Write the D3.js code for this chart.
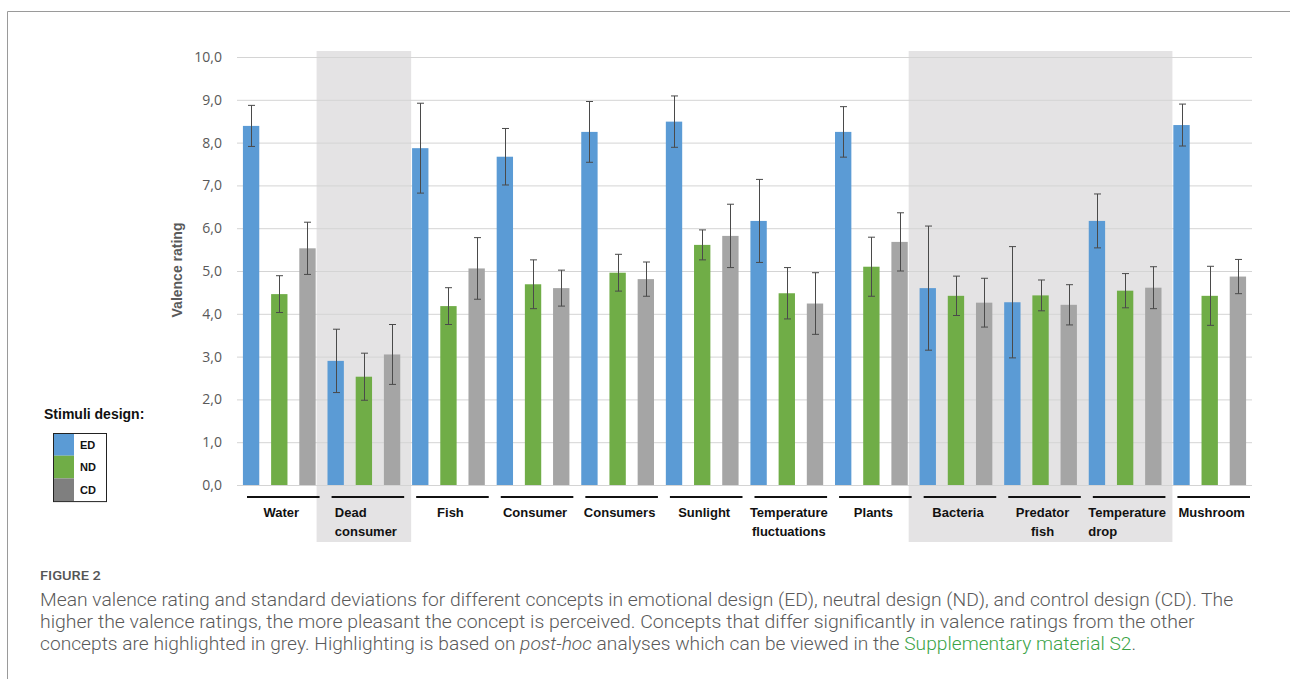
<!DOCTYPE html>
<html>
<head>
<meta charset="utf-8">
<script src="https://cdn.jsdelivr.net/npm/d3@7"></script>
<style>
  html, body { margin: 0; padding: 0; background: #ffffff; }
  svg { display: block; }
</style>
</head>
<body>
<svg id="chart" width="1290" height="679"></svg>
<script>
// Concepts shown along the x axis (label lines per concept)
const categories = ["Water", "Dead consumer", "Fish", "Consumer", "Consumers", "Sunlight",
  "Temperature fluctuations", "Plants", "Bacteria", "Predator fish", "Temperature drop", "Mushroom"];
const labelLines = [["Water"], ["Dead", "consumer"], ["Fish"], ["Consumer"], ["Consumers"], ["Sunlight"],
  ["Temperature", "fluctuations"], ["Plants"], ["Bacteria"], ["Predator", "fish"], ["Temperature", "drop"], ["Mushroom"]];
const labelAlign = ["middle", "start", "middle", "middle", "middle", "middle",
  "middle", "middle", "middle", "middle", "start", "middle"];

// Design conditions
const series = ["ED", "ND", "CD"];

// Mean valence ratings per condition
const meanED = [8.39, 2.90, 7.87, 7.67, 8.25, 8.49, 6.17, 8.25, 4.60, 4.27, 6.17, 8.41];
const meanND = [4.46, 2.53, 4.18, 4.69, 4.96, 5.61, 4.48, 5.10, 4.42, 4.43, 4.54, 4.42];
const meanCD = [5.53, 3.05, 5.06, 4.60, 4.81, 5.82, 4.24, 5.68, 4.26, 4.21, 4.61, 4.87];

// Standard deviations per condition
const sdED = [0.48, 0.74, 1.05, 0.66, 0.71, 0.60, 0.97, 0.59, 1.45, 1.30, 0.63, 0.49];
const sdND = [0.43, 0.55, 0.43, 0.57, 0.43, 0.35, 0.60, 0.69, 0.46, 0.36, 0.40, 0.69];
const sdCD = [0.61, 0.70, 0.72, 0.42, 0.40, 0.74, 0.72, 0.68, 0.57, 0.47, 0.49, 0.40];

// Concepts that differ significantly (shaded)
const highlighted = [["Dead consumer"], ["Bacteria", "Predator fish", "Temperature drop"]];

// Axis ticks
const yTicks = [0, 1, 2, 3, 4, 5, 6, 7, 8, 9, 10];

const barColors = { ED: "#5b9bd5", ND: "#70ad47", CD: "#a5a5a5" };
const legendColors = { ED: "#5b9bd5", ND: "#70ad47", CD: "#7f7f7f" };

const means = { ED: meanED, ND: meanND, CD: meanCD };
const sds = { ED: sdED, ND: sdND, CD: sdCD };

const svg = d3.select("#chart");

// Figure frame (top and left rule)
svg.append("line").attr("x1", 7.5).attr("x2", 1290).attr("y1", 11.5).attr("y2", 11.5)
  .attr("stroke", "#9a9a9a").attr("stroke-width", 1);
svg.append("line").attr("x1", 7.5).attr("x2", 7.5).attr("y1", 11.5).attr("y2", 679)
  .attr("stroke", "#9a9a9a").attr("stroke-width", 1);

const x0 = d3.scaleBand().domain(categories).range([237, 1252]).padding(0);
const x1 = d3.scaleBand().domain(series).range([0, x0.bandwidth()])
  .paddingInner(0.42).paddingOuter(0.21);
const y = d3.scaleLinear().domain([0, 10]).range([485, 57]);

// Shaded groups
const hl = svg.append("g");
highlighted.forEach(group => {
  const first = group[0], last = group[group.length - 1];
  const xs = x0(first) - 5;
  const xe = x0(last) + x0.bandwidth() + 5;
  hl.append("rect").attr("x", xs).attr("y", 51).attr("width", xe - xs).attr("height", 491)
    .attr("fill", "#e4e3e4");
});

// Horizontal gridlines and tick labels
const yAxis = d3.axisLeft(y).tickValues(yTicks)
  .tickSize(-(1252 - 237))
  .tickPadding(15)
  .tickFormat(d => d3.format(".1f")(d).replace(".", ","));
const ga = svg.append("g").attr("transform", "translate(237,0)").call(yAxis);
ga.select(".domain").remove();
ga.selectAll(".tick line").attr("stroke", "#d4d4d4").attr("stroke-width", 1);
ga.selectAll(".tick text").attr("fill", "#595959")
  .style("font-family", "'Open Sans', 'Noto Sans', sans-serif").style("font-size", "14px");

// Y axis title
svg.append("text")
  .attr("transform", "translate(182,270) rotate(-90)")
  .attr("text-anchor", "middle")
  .style("font-family", "'Liberation Sans', Arial, sans-serif")
  .style("font-size", "14px").style("font-weight", "bold")
  .attr("fill", "#595959")
  .text("Valence rating");

// Bars with SD whiskers
const rows = [];
categories.forEach((c, i) => {
  series.forEach(s => rows.push({ cat: c, s: s, v: means[s][i], sd: sds[s][i] }));
});

const gb = svg.append("g");
gb.selectAll("rect.bar").data(rows).join("rect")
  .attr("class", "bar")
  .attr("x", d => x0(d.cat) + x1(d.s))
  .attr("y", d => y(d.v))
  .attr("width", x1.bandwidth())
  .attr("height", d => y(0) - y(d.v))
  .attr("fill", d => barColors[d.s]);

const ge = svg.append("g").attr("stroke", "#4a4a4a").attr("stroke-width", 1);
rows.forEach(d => {
  const cx = Math.round(x0(d.cat) + x1(d.s) + x1.bandwidth() / 2) + 0.5;
  const top = y(d.v + d.sd), bot = y(d.v - d.sd);
  ge.append("line").attr("x1", cx).attr("x2", cx).attr("y1", top).attr("y2", bot);
  ge.append("line").attr("x1", cx - 3.5).attr("x2", cx + 3.5).attr("y1", top).attr("y2", top);
  ge.append("line").attr("x1", cx - 3.5).attr("x2", cx + 3.5).attr("y1", bot).attr("y2", bot);
});

// Category rules and labels
const gc = svg.append("g");
categories.forEach((c, i) => {
  const xs = x0(c);
  const cx = xs + x0.bandwidth() / 2 + 2;
  gc.append("line").attr("x1", xs + 10).attr("x2", xs + x0.bandwidth() - 2)
    .attr("y1", 497).attr("y2", 497).attr("stroke", "#111").attr("stroke-width", 2);
  const lines = labelLines[i];
  const t = gc.append("text")
    .style("font-family", "'Liberation Sans', Arial, sans-serif")
    .style("font-size", "13px").style("font-weight", "bold").attr("fill", "#111");
  if (labelAlign[i] === "start") {
    // left-aligned lines, block centred on the widest line
    t.attr("text-anchor", "start");
    lines.forEach((ln, k) => t.append("tspan").attr("x", 0).attr("y", 517 + k * 19).text(ln));
    const w = t.node().getBBox().width;
    t.selectAll("tspan").attr("x", cx - w / 2);
  } else {
    t.attr("text-anchor", "middle");
    lines.forEach((ln, k) => t.append("tspan").attr("x", cx).attr("y", 517 + k * 19).text(ln));
  }
});

// Legend
svg.append("text").attr("x", 44).attr("y", 419)
  .style("font-family", "'Liberation Sans', Arial, sans-serif")
  .style("font-size", "14px").style("font-weight", "bold").attr("fill", "#111")
  .text("Stimuli design:");
const lg = svg.append("g").attr("transform", "translate(53,433)");
const rowH = 22.7;
series.forEach((s, k) => {
  lg.append("rect").attr("x", 0).attr("y", k * rowH).attr("width", 21).attr("height", rowH)
    .attr("fill", legendColors[s]);
  lg.append("text").attr("x", 27).attr("y", k * rowH + 15.5)
    .style("font-family", "'Liberation Sans', Arial, sans-serif")
    .style("font-size", "11px").style("font-weight", "bold").attr("fill", "#111")
    .text(s);
});
lg.append("rect").attr("x", 0.5).attr("y", 0.5).attr("width", 53).attr("height", rowH * 3)
  .attr("fill", "none").attr("stroke", "#222").attr("stroke-width", 1);

// Caption (condensed by horizontal scaling to each line's width)
const capFont = "'Roboto', 'Noto Sans', sans-serif";
function fitLine(sel, x, yb, target) {
  const w = sel.node().getComputedTextLength();
  sel.attr("transform", `translate(${x},${yb}) scale(${target / w},1)`);
}
const fig = svg.append("text").attr("x", 0).attr("y", 0)
  .style("font-family", capFont).style("font-size", "13px").style("font-weight", "500")
  .attr("fill", "#555")
  .text("FIGURE 2");
fitLine(fig, 40, 580, 61);

const capLines = [
  { parts: [{ t: "Mean valence rating and standard deviations for different concepts in emotional design (ED), neutral design (ND), and control design (CD). The" }], w: 1194 },
  { parts: [{ t: "higher the valence ratings, the more pleasant the concept is perceived. Concepts that differ significantly in valence ratings from the other" }], w: 1155 },
  { parts: [{ t: "concepts are highlighted in grey. Highlighting is based on " }, { t: "post-hoc", i: true },
            { t: " analyses which can be viewed in the " }, { t: "Supplementary material S2", g: true }, { t: "." }], w: 1097 }
];
capLines.forEach((ln, k) => {
  const t = svg.append("text").attr("x", 0).attr("y", 0)
    .style("font-family", capFont).style("font-size", "18px").style("font-weight", "300")
    .attr("fill", "#5a5a5a");
  ln.parts.forEach(p => {
    const ts = t.append("tspan").text(p.t);
    if (p.i) ts.style("font-style", "italic");
    if (p.g) ts.attr("fill", "#3aa346");
  });
  fitLine(t, 40, 606 + k * 22, ln.w);
});
</script>
</body>
</html>
